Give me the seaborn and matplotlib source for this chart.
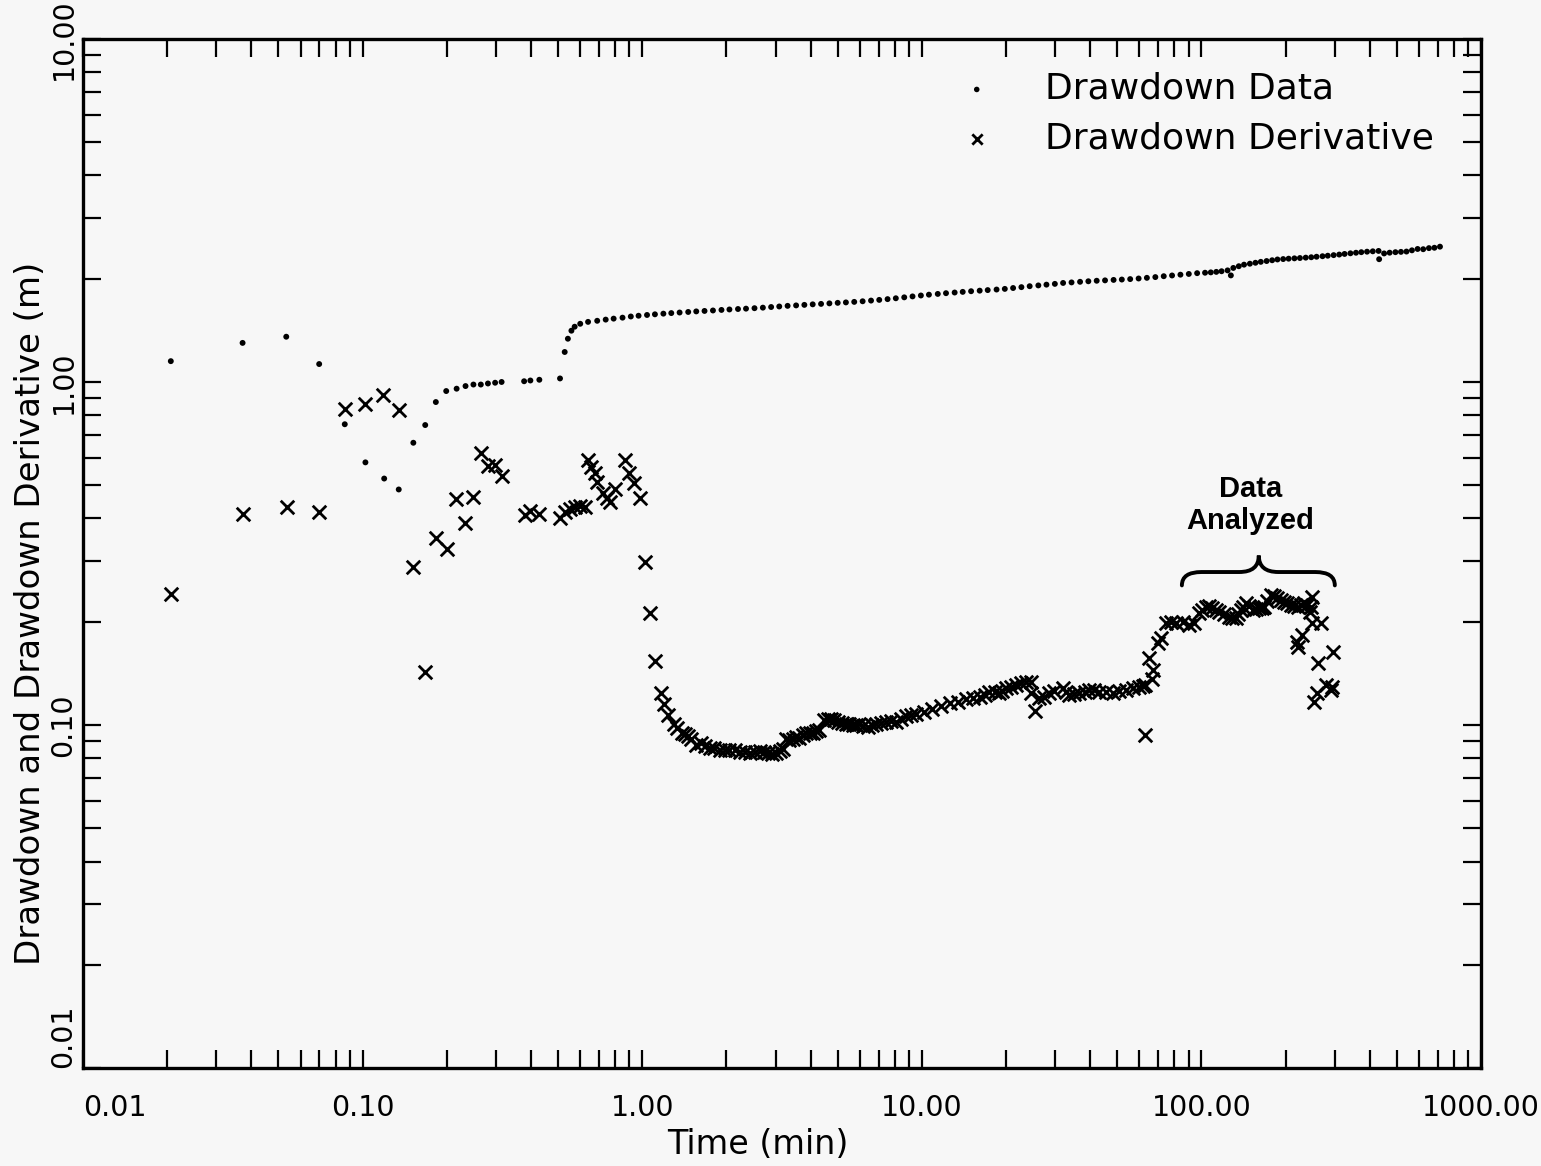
import matplotlib
matplotlib.use("Agg")
import matplotlib.pyplot as plt
import seaborn as sns
from matplotlib.path import Path
from matplotlib.patches import PathPatch
from matplotlib.ticker import FixedLocator, LogLocator, NullFormatter

# ---------------- data ----------------
dd_time = [0.0206, 0.0372, 0.0533, 0.0699, 0.0863, 0.1023, 0.1194, 0.1346, 0.1518, 0.1674,
           0.1827, 0.199, 0.2168, 0.2333, 0.249, 0.2646, 0.2806, 0.2977, 0.314, 0.378,
           0.398, 0.4285, 0.508, 0.528, 0.542, 0.558, 0.573,
           0.60, 0.64, 0.69, 0.74, 0.79, 0.85, 0.91, 0.97,
           1.04, 1.11, 1.19, 1.27, 1.36, 1.46, 1.56, 1.67, 1.79, 1.92, 2.05, 2.20, 2.35, 2.52,
           2.70, 2.89, 3.09, 3.31, 3.55, 3.80, 4.07, 4.36, 4.67, 5.00, 5.35, 5.73, 6.14, 6.58,
           7.04, 7.54, 8.07, 8.65, 9.26, 9.92,
           10.6, 11.4, 12.2, 13.1, 14.0, 15.0, 16.1, 17.2, 18.5, 19.8, 21.2, 22.7, 24.3, 26.1,
           27.9, 29.9, 32.0, 34.3, 36.8, 39.4, 42.2, 45.2, 48.5, 51.9, 55.6, 59.6, 63.8, 68.4,
           73.3, 78.5, 84.1, 90.1, 96.5,
           103, 108, 113, 118, 124, 127.4, 130, 136, 142, 149, 156, 163, 171, 179, 187, 196,
           205, 215, 225, 236, 247, 258, 271, 283, 297, 311, 325, 341, 357, 373, 391, 410, 430,
           432, 450, 471, 494, 517, 541, 566, 593, 621, 651, 681, 713]
dd_value = [1.15, 1.30, 1.355, 1.128, 0.753, 0.583, 0.523, 0.486, 0.665, 0.749,
            0.874, 0.941, 0.956, 0.973, 0.983, 0.983, 0.99, 0.995, 1.0, 1.005,
            1.01, 1.015, 1.024, 1.223, 1.337, 1.411, 1.449,
            1.478, 1.497, 1.508, 1.520, 1.530, 1.540, 1.552, 1.560,
            1.568, 1.575, 1.582, 1.588, 1.594, 1.600, 1.606, 1.611, 1.616, 1.622, 1.627, 1.632,
            1.636, 1.641, 1.647, 1.654, 1.660, 1.667, 1.672, 1.678, 1.684, 1.689, 1.695, 1.701,
            1.706, 1.712, 1.719, 1.727, 1.735, 1.744, 1.754, 1.765, 1.776, 1.787,
            1.797, 1.806, 1.815, 1.823, 1.831, 1.839, 1.846, 1.853, 1.860, 1.868, 1.879, 1.890,
            1.902, 1.912, 1.922, 1.932, 1.944, 1.951, 1.959, 1.966, 1.973, 1.978, 1.984, 1.989,
            1.995, 2.003, 2.012, 2.022, 2.034, 2.044, 2.055, 2.065, 2.076,
            2.082, 2.087, 2.094, 2.103, 2.115, 2.045, 2.150, 2.175, 2.198, 2.212, 2.226, 2.240,
            2.252, 2.264, 2.276, 2.282, 2.288, 2.293, 2.298, 2.304, 2.310, 2.318, 2.326, 2.334,
            2.343, 2.352, 2.362, 2.372, 2.381, 2.390, 2.398, 2.404, 2.410,
            2.280, 2.370, 2.382, 2.390, 2.395, 2.400, 2.420, 2.442, 2.438, 2.456, 2.462, 2.480]

der_time = [0.0206, 0.0372, 0.0535, 0.0699, 0.0863, 0.1023, 0.1185, 0.1351, 0.151, 0.167,
            0.1835, 0.200, 0.2155, 0.232, 0.249, 0.265, 0.280, 0.297, 0.3153, 0.380,
            0.397, 0.428, 0.508, 0.528, 0.550, 0.573, 0.598, 0.623, 0.640, 0.658,
            0.676, 0.689, 0.724, 0.750, 0.766, 0.800, 0.865, 0.900, 0.934, 0.985,
            1.025, 1.063, 1.107, 1.163, 1.196, 1.239, 1.294, 1.33, 1.386, 1.42, 1.456, 1.50,
            1.56, 1.625, 1.68, 1.74, 1.81, 1.89, 1.97, 2.05, 2.14, 2.23, 2.33, 2.42, 2.53,
            2.63, 2.72, 2.81, 2.91, 3.01, 3.10, 3.18, 3.27, 3.36, 3.46, 3.55, 3.65, 3.76,
            3.86, 3.97, 4.07, 4.19, 4.30, 4.48, 4.61, 4.74, 4.87, 5.00, 5.18, 5.36, 5.51,
            5.66, 5.82, 5.98, 6.18, 6.41, 6.64, 6.86, 7.15, 7.45, 7.76, 8.09, 8.4, 8.79,
            9.15, 9.54, 10.2, 10.9, 11.7, 12.6, 13.5, 14.4, 15.2, 16.1, 16.8, 17.4, 18.2,
            18.9, 19.4, 20.0, 20.8, 21.7, 22.6, 23.6, 24.5, 24.5, 25.3, 26.3, 27.4, 28.6,
            29.8, 31.9, 32.8, 33.7, 35.1, 36.6, 38.2, 39.7, 41.4, 43.1, 45.6, 48.1, 50.8,
            53.7, 56.7, 59.9, 61.6, 62.6, 62.8, 66.3, 67.3, 64.7, 69.7, 71.6, 74.6, 77.8,
            81.1, 85.6, 90.4, 94.2, 98.2, 100.5, 103.7, 106.5, 109.5, 112.6, 115.8, 120.5,
            125.6, 129, 132.7, 135.5, 138.3, 141.2, 144.2, 148, 152.3, 156.5, 160.9, 164.2,
            167.7, 172, 177, 182, 187, 192.2, 197.6, 203, 208.9, 214.5, 220.6, 226.5, 232.9,
            239.3, 246, 249.4, 244, 249.4, 267.4, 219.4, 228, 220.6, 261.5, 295.8, 253,
            259.2, 278.6, 290.2, 294]
der_value = [0.241, 0.412, 0.433, 0.417, 0.836, 0.861, 0.918, 0.829, 0.288, 0.143,
             0.352, 0.325, 0.456, 0.388, 0.462, 0.620, 0.570, 0.574, 0.532, 0.410,
             0.422, 0.413, 0.400, 0.418, 0.427, 0.432, 0.434, 0.432, 0.592, 0.566,
             0.542, 0.512, 0.474, 0.459, 0.447, 0.487, 0.592, 0.544, 0.509, 0.458,
             0.299, 0.2126, 0.154, 0.1237, 0.115, 0.1069, 0.101, 0.098, 0.0945, 0.094, 0.0929,
             0.091, 0.0875, 0.0886, 0.087, 0.0855, 0.0858, 0.0845, 0.0848, 0.0845, 0.0846,
             0.0836, 0.0834, 0.0827, 0.0836, 0.0842, 0.0836, 0.0827, 0.0822, 0.0827, 0.0838,
             0.0849, 0.0909, 0.0905, 0.0909, 0.092, 0.0917, 0.0935, 0.0945, 0.095, 0.0948,
             0.0958, 0.0967, 0.1035, 0.1042, 0.104, 0.1035, 0.1023, 0.1015, 0.101, 0.1005,
             0.100, 0.1002, 0.1006, 0.0995, 0.099, 0.100, 0.101, 0.1015, 0.1023, 0.1025,
             0.1023, 0.104, 0.106, 0.107, 0.108, 0.109, 0.111, 0.1135, 0.1157, 0.117, 0.1189,
             0.1195, 0.121, 0.1225, 0.125, 0.1245, 0.1237, 0.126, 0.128, 0.1295, 0.131,
             0.1325, 0.1337, 0.1337, 0.1237, 0.110, 0.1197, 0.121, 0.1237, 0.1255, 0.128,
             0.1245, 0.1223, 0.123, 0.1237, 0.125, 0.1265, 0.1262, 0.125, 0.1245, 0.1243,
             0.126, 0.1265, 0.128, 0.1288, 0.130, 0.0936, 0.131, 0.136, 0.1448, 0.1565,
             0.173, 0.179, 0.198, 0.200, 0.198, 0.200, 0.1956, 0.198, 0.2116, 0.216, 0.2213,
             0.2225, 0.2188, 0.2165, 0.214, 0.2105, 0.207, 0.2055, 0.2046, 0.210, 0.2164,
             0.2215, 0.2265, 0.222, 0.2164, 0.2175, 0.2188, 0.2195, 0.2213, 0.230, 0.2393,
             0.237, 0.234, 0.2315, 0.229, 0.2265, 0.224, 0.2225, 0.2213, 0.224, 0.2265,
             0.2245, 0.2213, 0.2366, 0.214, 0.198, 0.198, 0.175, 0.183, 0.169, 0.1514,
             0.1637, 0.117, 0.1237, 0.131, 0.1265, 0.1294]

x_ticks = [0.01, 0.1, 1, 10, 100, 1000]
x_labels = ["0.01", "0.10", "1.00", "10.00", "100.00", "1000.00"]
y_ticks = [0.01, 0.1, 1, 10]
y_labels = ["0.01", "0.10", "1.00", "10.00"]

series_labels = ["Drawdown Data", "Drawdown Derivative"]
x_title = "Time (min)"
y_title = "Drawdown and Drawdown Derivative (m)"
note_text = "Data\nAnalyzed"
note_pos = (150.0, 0.438)

# ---------------- styling ----------------
sns.set_theme(style="ticks")
plt.rcParams['font.family'] = ['DejaVu Sans']
plt.rcParams['text.color'] = 'black'
plt.rcParams['axes.labelcolor'] = 'black'
plt.rcParams['xtick.color'] = 'black'
plt.rcParams['ytick.color'] = 'black'
bg = "#f7f7f7"

fig = plt.figure(figsize=(15.41, 11.66), dpi=100, facecolor=bg)
ax = fig.add_axes([0.0539, 0.0840, 0.9072, 0.8826])
ax.set_facecolor(bg)

sns.scatterplot(x=dd_time, y=dd_value, marker='o', s=18, color='black',
                edgecolor='none', label=series_labels[0], ax=ax, zorder=3)
sns.scatterplot(x=der_time, y=der_value, marker='x', s=95, color='black',
                linewidth=2.0, label=series_labels[1], ax=ax, zorder=3)

ax.set_xscale('log')
ax.set_yscale('log')
ax.set_xlim(0.01, 1000)
ax.set_ylim(0.01, 10)

ax.xaxis.set_major_locator(FixedLocator(x_ticks))
ax.xaxis.set_minor_locator(LogLocator(base=10, subs=range(2, 10), numticks=50))
ax.xaxis.set_minor_formatter(NullFormatter())
ax.yaxis.set_major_locator(FixedLocator(y_ticks))
ax.yaxis.set_minor_locator(LogLocator(base=10, subs=range(2, 10), numticks=50))
ax.yaxis.set_minor_formatter(NullFormatter())

ax.set_xticklabels(x_labels, fontsize=20.5, color='black')
ax.set_yticklabels(y_labels, fontsize=20.5, rotation=90, va='center', color='black')
ax.get_xticklabels()[0].set_ha('left')
ax.get_yticklabels()[0].set_va('bottom')

ax.tick_params(which='both', direction='in', length=13, width=1.6, top=True,
               right=True, colors='black')
ax.tick_params(axis='x', which='major', pad=19)
ax.tick_params(axis='y', which='major', pad=4)
for sp in ax.spines.values():
    sp.set_linewidth(2.4)
    sp.set_color('black')

ax.set_xlabel(x_title, fontsize=24, color='black')
ax.xaxis.set_label_coords(0.483, -0.058)
ax.set_ylabel(y_title, fontsize=24.5, color='black')
ax.yaxis.set_label_coords(-0.026, 0.442)

leg = ax.legend(loc='upper right', bbox_to_anchor=(0.982, 0.989), frameon=False,
                fontsize=26, handletextpad=0.9, labelspacing=0.42, borderaxespad=0.2)
for t in leg.get_texts():
    t.set_color('black')
leg.legend_handles[0].set_sizes([16])
leg.legend_handles[1].set_sizes([55])

# brace above the analysed interval (axes-fraction geometry)
x0, xm, x1 = 0.786, 0.841, 0.8954
yb, ym, yt = 0.469, 0.482, 0.498
dx = 0.014
verts = [(x0, yb), (x0, ym), (x0 + dx, ym),
         (xm - dx, ym), (xm, ym), (xm, yt),
         (xm, ym), (xm + dx, ym),
         (x1 - dx, ym), (x1, ym), (x1, yb)]
codes = [Path.MOVETO, Path.CURVE3, Path.CURVE3,
         Path.LINETO, Path.CURVE3, Path.CURVE3,
         Path.CURVE3, Path.CURVE3,
         Path.LINETO, Path.CURVE3, Path.CURVE3]
ax.add_patch(PathPatch(Path(verts, codes), transform=ax.transAxes, fill=False,
                       lw=2.8, color='black', capstyle='round'))
ax.text(note_pos[0], note_pos[1], note_text, ha='center', va='center', fontsize=21,
        fontweight='bold', family=['Liberation Sans', 'DejaVu Sans'], linespacing=1.15,
        color='black')

fig.savefig("out.png", dpi=100, facecolor=bg)
